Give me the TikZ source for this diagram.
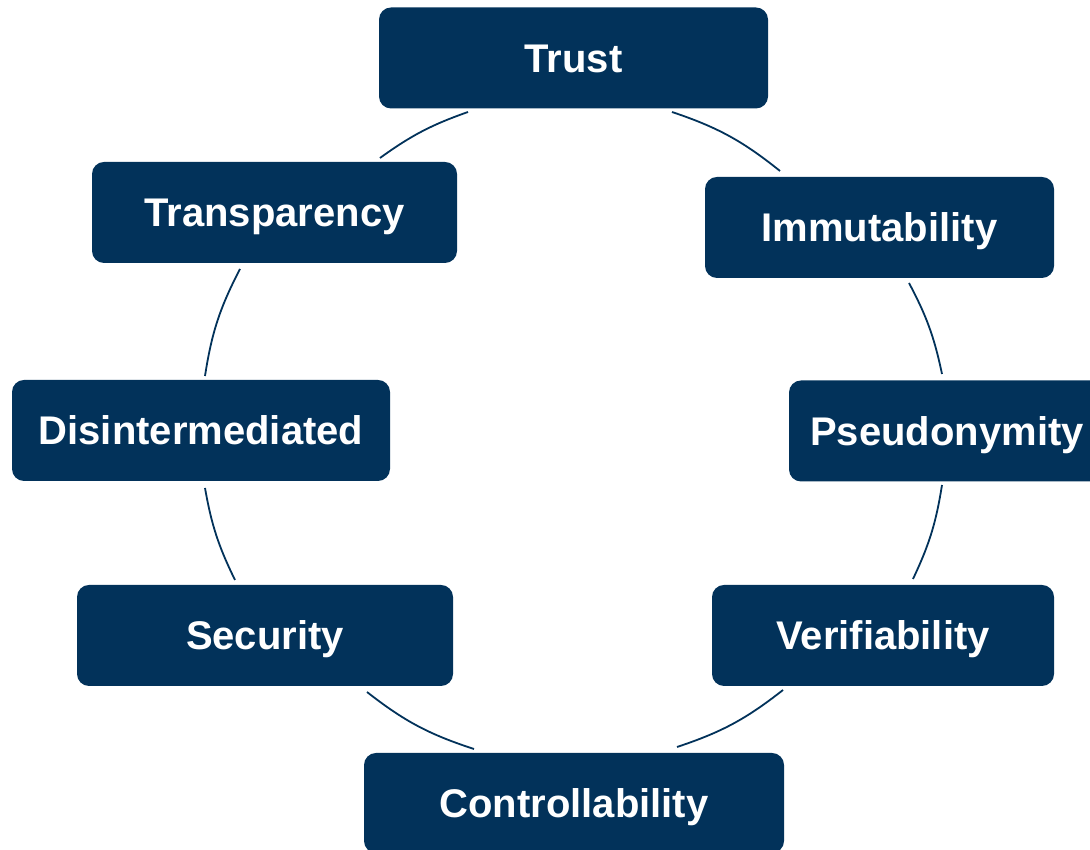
\documentclass[tikz,border=0pt]{standalone}
\usepackage{fontspec}
\setmainfont{Liberation Sans}
\usepackage{tikz}
\usepackage{xcolor}
\definecolor{deepblue}{RGB}{2,50,90}
\tikzset{
  pillar/.style={
    rectangle, rounded corners=12pt, fill=deepblue, text=white,
    font=\fontsize{40}{46}\selectfont\bfseries,
    inner sep=0pt, text height=28.5pt, text depth=0pt, minimum height=101pt
  }}
\tikzset{
  ring/.style={draw=deepblue, line width=1.8pt}
  }

\begin{document}
\begin{tikzpicture}[x=1pt,y=1pt]
    \useasboundingbox (0,0) rectangle (1090,850);
    \node[pillar,minimum width=389pt] (trust) at (573.5,792) {Trust};
    \node[pillar,minimum width=349pt] (immut) at (879.5,622.5) {Immutability};
    \node[pillar,minimum width=316pt] (pseudo) at (947,419) {Pseudonymity};
    \node[pillar,minimum width=342pt] (verif) at (883,214.5) {Verifiability};
    \node[pillar,minimum width=420pt,minimum height=100pt] (control) at (574,47) {Controllability};
    \node[pillar,minimum width=376pt] (secur) at (265,214.5) {Security};
    \node[pillar,minimum width=378pt] (disint) at (201,419.5) {Disintermediated};
    \node[pillar,minimum width=365pt] (transp) at (274.5,637.5) {Transparency};
    % ends of the arcs
    \coordinate (t1) at (468,738);   \coordinate (t2) at (380,692);
    \coordinate (tr1) at (240,581);  \coordinate (tr2) at (205,474);
    \coordinate (d1) at (205,362);   \coordinate (d2) at (235,270);
    \coordinate (s1) at (367,158);   \coordinate (s2) at (474,101);
    \coordinate (c1) at (677,103);   \coordinate (c2) at (783,160);
    \coordinate (v1) at (913,271);   \coordinate (v2) at (942,365);
    \coordinate (p1) at (942,476);   \coordinate (p2) at (909,567);
    \coordinate (i1) at (780,679);   \coordinate (i2) at (672,738);
    % arcs of the cycle
    \draw[ring] (t1) to[bend right=8.2] (t2);
    \draw[ring] (tr1) to[bend right=9.3] (tr2);
    \draw[ring] (d1) to[bend right=8] (d2);
    \draw[ring] (s1) to[bend right=10] (s2);
    \draw[ring] (c1) to[bend right=9.9] (c2);
    \draw[ring] (v1) to[bend right=8.1] (v2);
    \draw[ring] (p1) to[bend right=8] (p2);
    \draw[ring] (i1) to[bend right=10.1] (i2);
\end{tikzpicture}
\end{document}
